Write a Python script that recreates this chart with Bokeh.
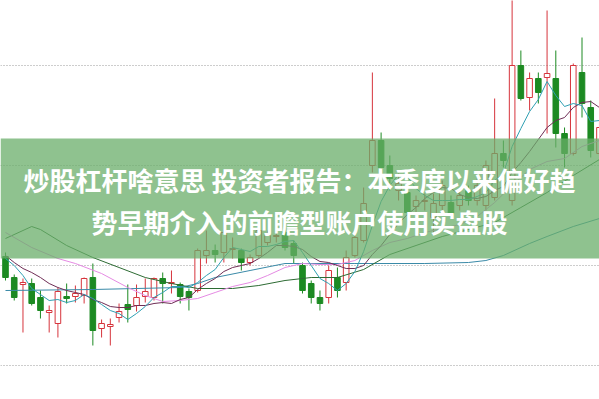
from bokeh.plotting import figure
from bokeh.models import Range1d, BoxAnnotation, Label, FixedTicker, Grid, ColumnDataSource
from bokeh.embed import file_html
from bokeh.resources import INLINE

# ---- data (prices) ----
opens = [7.44, 7.23, 7.16, 7.17, 7.03, 6.88, 6.77, 7.04, 7.04, 7.05,
         7.23, 6.72, 6.74, 6.83, 6.96, 6.95, 7.04, 7.03, 7.22, 7.17,
         7.16, 7.09, 7.10, 7.45, 7.50, 7.48, 7.51, 7.50, 7.38, 7.45,
         7.58, 7.64, 7.68, 7.57, 7.35, 7.17, 7.03, 7.03, 7.23, 7.18,
         7.45, 7.60, 8.35, 8.60, 8.35, 8.10, 8.08, 7.94, 7.99, 7.83,
         7.95, 7.98, 7.95, 8.10, 8.00, 7.95, 8.03, 8.47, 8.00, 9.35,
         9.03, 9.22, 9.23, 9.22, 8.67, 8.47, 9.28, 8.93, 8.47]
closes = [7.23, 7.03, 7.18, 6.97, 6.90, 6.90, 7.09, 7.02, 7.07, 7.22,
          6.70, 6.77, 6.76, 6.89, 6.91, 7.03, 7.09, 7.22, 7.17, 7.18,
          7.04, 7.03, 7.50, 7.50, 7.46, 7.68, 7.52, 7.38, 7.43, 7.70,
          7.65, 7.65, 7.53, 7.45, 7.10, 7.03, 6.97, 7.30, 7.10, 7.43,
          7.63, 7.97, 8.60, 8.33, 8.22, 8.17, 7.88, 8.00, 8.00, 7.97,
          8.15, 7.87, 8.05, 8.00, 8.15, 8.35, 8.47, 8.40, 9.35, 9.02,
          9.22, 9.08, 9.27, 8.67, 8.47, 9.35, 8.97, 8.50, 8.73]
highs = [7.48, 7.26, 7.22, 7.22, 7.10, 6.95, 7.13, 7.17, 7.15, 7.23,
         7.37, 6.81, 6.82, 6.97, 7.16, 7.16, 7.22, 7.23, 7.28, 7.30,
         7.18, 7.12, 7.52, 7.70, 7.56, 7.78, 7.63, 7.52, 7.46, 7.82,
         7.70, 7.70, 7.70, 7.60, 7.38, 7.20, 7.10, 7.35, 7.33, 7.50,
         7.67, 8.13, 9.28, 8.68, 8.45, 8.27, 8.15, 8.05, 8.07, 8.07,
         8.20, 8.05, 8.10, 8.15, 8.22, 8.40, 9.02, 8.60, 10.10, 9.50,
         9.28, 9.28, 9.90, 9.50, 8.73, 9.37, 9.63, 9.00, 8.80]
lows = [7.20, 7.00, 6.68, 6.95, 6.82, 6.68, 6.63, 6.97, 6.98, 6.97,
        6.55, 6.63, 6.55, 6.78, 6.78, 6.89, 6.98, 7.00, 6.97, 7.07,
        6.97, 6.90, 7.08, 7.37, 7.38, 7.38, 7.42, 7.30, 7.35, 7.43,
        7.55, 7.58, 7.50, 7.37, 7.07, 6.97, 6.90, 6.97, 7.03, 7.10,
        7.43, 7.58, 8.28, 8.30, 8.10, 8.00, 7.85, 7.85, 7.90, 7.67,
        7.90, 7.83, 7.90, 7.95, 7.95, 7.90, 8.00, 8.33, 7.95, 9.00,
        8.90, 8.97, 8.67, 8.53, 8.33, 8.45, 8.83, 8.43, 8.45]

ma5 = [7.42, 7.35, 7.25, 7.12, 7.06, 7.00, 7.01, 6.98, 7.00, 7.06,
       7.02, 6.96, 6.90, 6.87, 6.81, 6.87, 6.94, 7.03, 7.08, 7.14,
       7.14, 7.13, 7.18, 7.25, 7.31, 7.43, 7.53, 7.51, 7.49, 7.54,
       7.54, 7.56, 7.59, 7.60, 7.48, 7.35, 7.22, 7.17, 7.10, 7.17,
       7.29, 7.49, 7.75, 7.99, 8.15, 8.26, 8.24, 8.12, 8.05, 8.00,
       8.00, 8.00, 8.01, 8.01, 8.04, 8.08, 8.20, 8.27, 8.54, 8.72,
       8.89, 9.01, 9.19, 9.05, 8.94, 8.97, 8.95, 8.79, 8.80]
ma10 = [7.45, 7.38, 7.32, 7.28, 7.23, 7.17, 7.13, 7.10, 7.08, 7.06,
        7.01, 6.98, 6.94, 6.93, 6.93, 6.95, 6.95, 6.97, 6.98, 6.97,
        7.01, 7.03, 7.11, 7.17, 7.22, 7.29, 7.33, 7.35, 7.37, 7.42,
        7.48, 7.55, 7.55, 7.54, 7.51, 7.44, 7.39, 7.38, 7.35, 7.32,
        7.32, 7.35, 7.46, 7.55, 7.66, 7.77, 7.86, 7.93, 8.02, 8.08,
        8.13, 8.12, 8.06, 8.03, 8.02, 8.04, 8.10, 8.14, 8.28, 8.38,
        8.49, 8.61, 8.73, 8.80, 8.83, 8.93, 8.98, 8.99, 8.93]
ma20_at = [0, 3, 6, 8, 11, 14, 16, 18, 20, 22, 24, 26, 28, 30, 32, 34, 36,
           38, 40, 42, 44, 46, 48, 50, 52, 54, 56, 58, 60, 62, 64, 66, 68]
ma20 = [7.68, 7.53, 7.42, 7.37, 7.27, 7.13, 7.05, 6.99, 7.00, 7.02, 7.08,
        7.14, 7.18, 7.25, 7.33, 7.37, 7.36, 7.36, 7.40, 7.50, 7.58, 7.62,
        7.68, 7.72, 7.76, 7.84, 7.98, 8.15, 8.31, 8.39, 8.42, 8.54, 8.60]
ma30_at = [0, 2, 3, 4, 7, 10, 13, 16, 19, 22, 26, 29, 32, 35, 38, 41, 44,
           47, 50, 53, 56, 59, 62, 65, 68]
ma30 = [7.62, 7.70, 7.74, 7.71, 7.55, 7.43, 7.33, 7.23, 7.17, 7.12, 7.12,
        7.15, 7.20, 7.23, 7.23, 7.31, 7.46, 7.55, 7.64, 7.71, 7.78, 7.93,
        8.08, 8.25, 8.41]
ma60_at = [0, 10, 20, 22, 24, 28, 32, 40, 48, 53, 55, 57, 60, 62, 65, 68]
ma60 = [7.10, 7.11, 7.13, 7.17, 7.23, 7.30, 7.37, 7.37, 7.37, 7.38, 7.40,
        7.45, 7.57, 7.64, 7.74, 7.82]

grid_levels = [6.35, 7.35, 8.35, 9.35]
banner_band = (7.42, 8.62)
title_lines = ["炒股杠杆啥意思 投资者报告：本季度以来偏好趋",
               "势早期介入的前瞻型账户使用实盘股"]

RED = "#d6343c"
GREEN = "#1c8a22"

idx = list(range(len(opens)))
is_up = [c >= o for o, c in zip(opens, closes)]
src = ColumnDataSource(dict(
    x=idx,
    top=[max(o, c) for o, c in zip(opens, closes)],
    bottom=[min(o, c) if abs(o - c) > 0.004 else min(o, c) - 0.01 for o, c in zip(opens, closes)],
    high=highs, low=lows,
    color=[RED if u else GREEN for u in is_up],
    fill=["white" if u else GREEN for u in is_up],
))

p = figure(width=599, height=399, output_backend="svg", toolbar_location=None,
           x_range=Range1d(-0.5724, 68.003), y_range=Range1d(6.01, 10.0),
           x_axis_location=None, y_axis_location=None, min_border=0,
           background_fill_color="white", border_fill_color="white",
           outline_line_color=None)
p.grid.visible = False
g = Grid(dimension=1, ticker=FixedTicker(ticks=grid_levels),
         grid_line_color="#9a9a9a", grid_line_dash="1 2", grid_line_width=1)
p.add_layout(g)

p.segment(x0="x", y0="high", x1="x", y1="low", source=src, line_color="color", line_width=1)
p.vbar(x="x", width=0.64, top="top", bottom="bottom", source=src,
       fill_color="fill", line_color="color", line_width=1)

p.line(ma60_at, ma60, line_color="#3a8aa8", line_width=1)
p.line(ma30_at, ma30, line_color="#2d6b33", line_width=1)
p.line(ma20_at, ma20, line_color="#e58ae3", line_width=1)
p.line(idx, ma10, line_color="#6e2d55", line_width=1)
p.line(idx, ma5, line_color="#2e9fb2", line_width=1)

box = BoxAnnotation(bottom=banner_band[0], top=banner_band[1],
                    fill_color="#6aae6a", fill_alpha=0.75, line_color=None)
p.add_layout(box)

for text, ys in zip(title_lines, [220.5, 178]):
    p.add_layout(Label(x=299, y=ys, x_units="screen", y_units="screen", text=text,
                       text_align="center", text_baseline="middle",
                       text_color="white", text_font="Noto Sans CJK SC",
                       text_font_style="bold", text_font_size="26px"))

open("out.html", "w").write(file_html(p, INLINE))
